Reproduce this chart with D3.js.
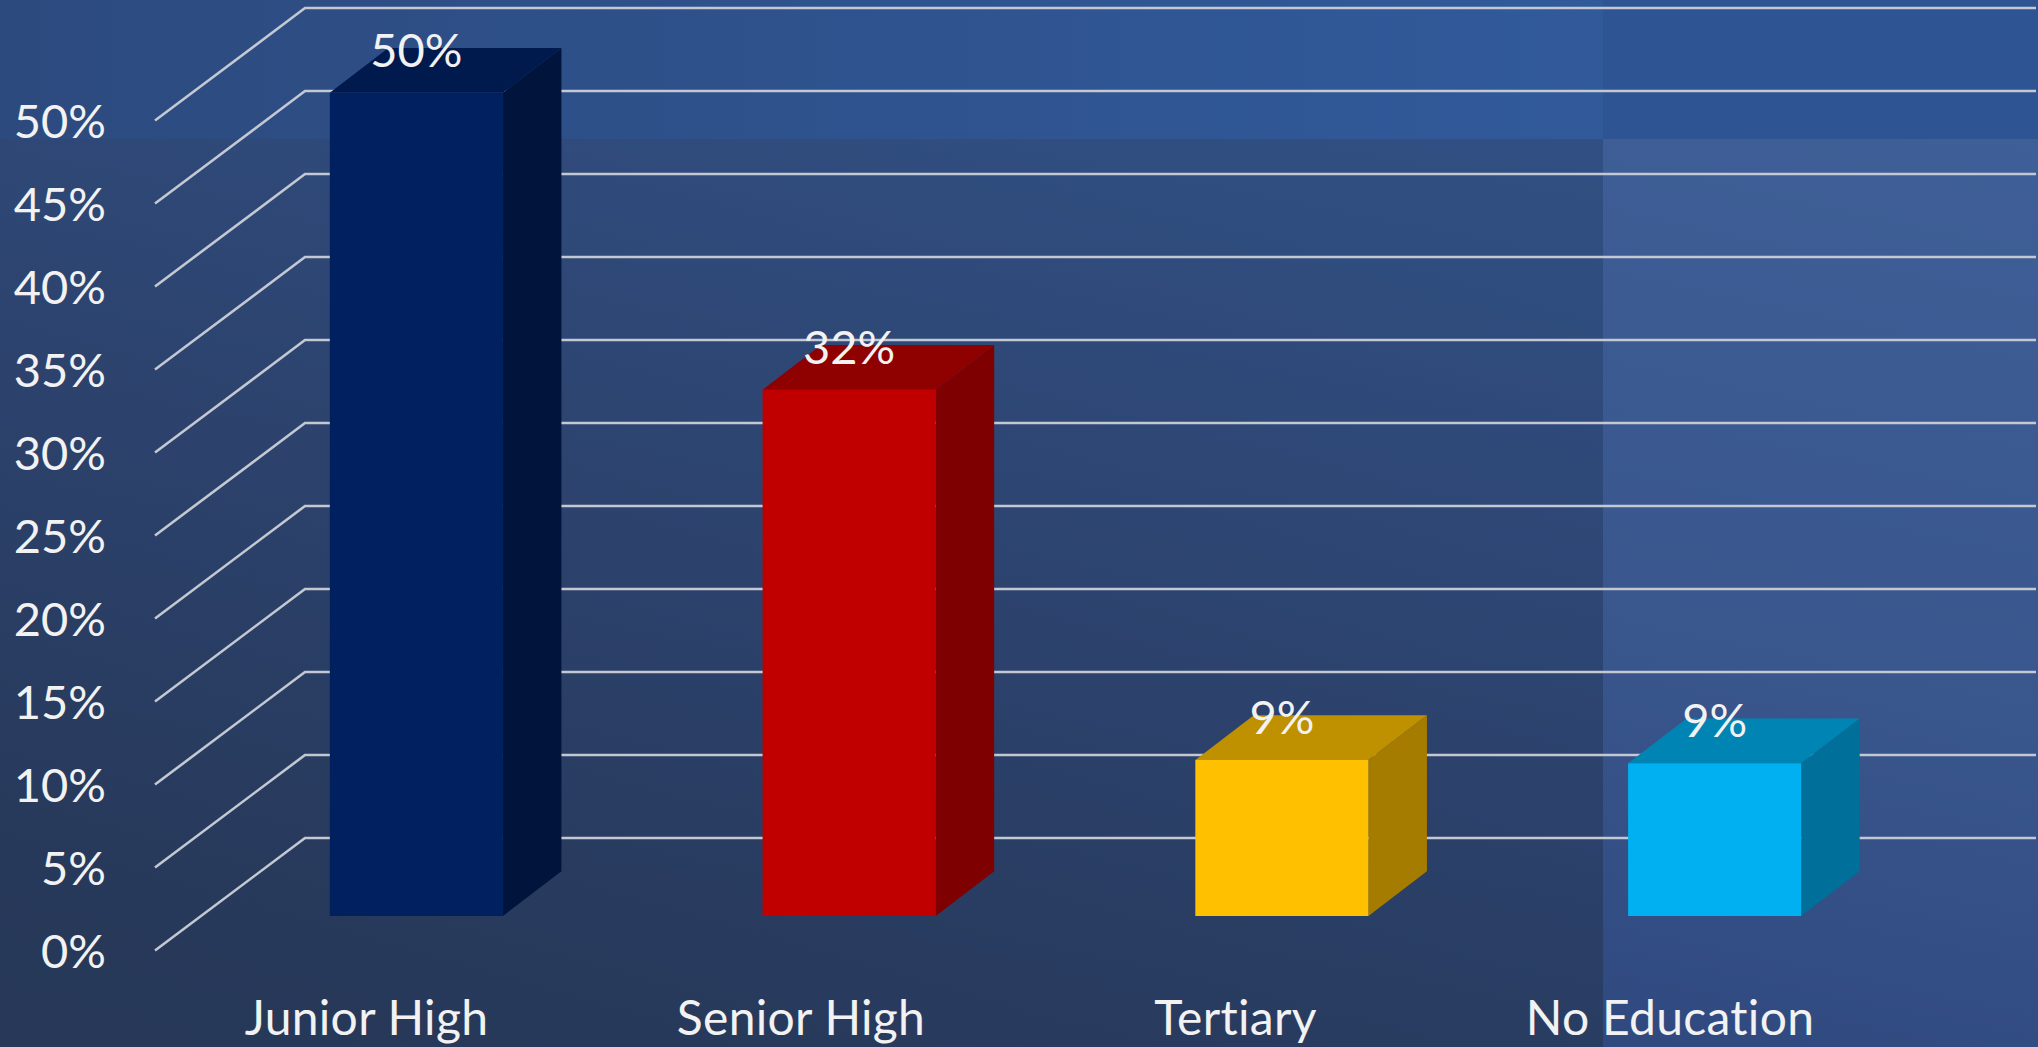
<!DOCTYPE html>
<html>
<head>
<meta charset="utf-8">
<script src="https://cdn.jsdelivr.net/npm/d3@7"></script>
<style>
html,body{margin:0;padding:0;background:#28395a;overflow:hidden}
svg{display:block}
text{font-family:Lato,"Open Sans",sans-serif;fill:#f2f2f2;font-variant-ligatures:none}
</style>
</head>
<body>
<script>
const categories = ["Junior High", "Senior High", "Tertiary", "No Education"];
const values = [49.6, 31.7, 9.4, 9.2];
const valueLabels = ["50%", "32%", "9%", "9%"];
const yTicks = [0, 5, 10, 15, 20, 25, 30, 35, 40, 45, 50];
const frontColors = ["#002060", "#c00000", "#ffc000", "#00b0f0"];
const topColors = ["#001a4d", "#8f0000", "#bf9000", "#0084b4"];
const sideColors = ["#00143c", "#7e0000", "#a67c00", "#006f9a"];

const W = 2038, H = 1047;
const splitX = 1603, splitY = 139;
const svg = d3.select("body").append("svg").attr("width", W).attr("height", H);
const defs = svg.append("defs");

function grad(id, x1, y1, x2, y2, stops) {
  const g = defs.append("linearGradient").attr("id", id).attr("gradientUnits", "userSpaceOnUse")
    .attr("x1", x1).attr("y1", y1).attr("x2", x2).attr("y2", y2);
  stops.forEach(s => g.append("stop").attr("offset", s[0]).attr("stop-color", s[1]));
}
grad("g1", 500, 0, 200, 1047, [[0, "#2f4d80"], [0.45, "#2d4470"], [1, "#283a5a"]]);
grad("g2", 1603, 0, 1400, 1047, [[0, "#3a5a90"], [0.5, "#2d426c"], [1, "#22314f"]]);
grad("g3", 1900, 100, 1700, 1047, [[0, "#3f5f98"], [0.6, "#39568d"], [1, "#304a80"]]);
grad("gt1", 0, 0, 1603, 0, [[0, "#2c4a7e"], [1, "#315a9b"]]);

svg.append("rect").attr("width", splitX).attr("height", H).attr("fill", "url(#g2)");
svg.append("rect").attr("width", splitX).attr("height", H).attr("fill", "url(#g1)").attr("opacity", 0.75);
svg.append("rect").attr("x", splitX).attr("width", W - splitX).attr("height", H).attr("fill", "url(#g3)");
svg.append("rect").attr("width", splitX).attr("height", splitY).attr("fill", "url(#gt1)");
svg.append("rect").attr("x", splitX).attr("width", W - splitX).attr("height", splitY).attr("fill", "#2f5494");

// scales
const yBack = d3.scaleLinear().domain([0, 50]).range([838, 8]);
const wallDX = 150, wallDY = 112.5;
const depthDX = 58.5, depthDY = 44.7;
const x = d3.scaleBand().domain(categories).range([200, 1931]).paddingInner(0.6).paddingOuter(0.3);
const xLabel = d3.scalePoint().domain(categories).range([366.5, 1670]);
const backLeft = 305, backRight = 2036;
const baseY = 916;
const barY = v => yBack(v) + (baseY - yBack(0));

// gridlines: back plane + left wall
const gridG = svg.append("g").attr("fill", "none").attr("stroke", "#c3c8d2").attr("stroke-width", 2.6);
const linePath = d3.line();
gridG.selectAll("path").data(yTicks).join("path")
  .attr("d", t => linePath([[backLeft - wallDX, yBack(t) + wallDY], [backLeft, yBack(t)], [backRight, yBack(t)]]));

// y axis labels
const axisScale = d3.scaleLinear().domain([0, 50]).range([yBack(0) + wallDY, yBack(50) + wallDY]);
const axis = d3.axisLeft(axisScale).tickValues(yTicks).tickSize(0).tickPadding(0).tickFormat(d => d + "%");
const axG = svg.append("g").attr("transform", "translate(106,0)").call(axis);
axG.select(".domain").remove();
axG.selectAll("text").attr("font-size", 47).attr("font-weight", 400).attr("dy", "0.36em").attr("fill", "#f2f2f2")
  .attr("font-family", "Lato");

// bars
const bars = svg.append("g").selectAll("g").data(categories).join("g");
const area = (i) => ({
  l: x(categories[i]), r: x(categories[i]) + x.bandwidth(), t: barY(values[i]), b: baseY
});
const poly = pts => pts.map(p => p.join(",")).join(" ");
bars.append("polygon").attr("fill", (d, i) => sideColors[i]).attr("points", (d, i) => {
  const a = area(i);
  return poly([[a.r, a.t], [a.r + depthDX, a.t - depthDY], [a.r + depthDX, a.b - depthDY], [a.r, a.b]]);
});
bars.append("polygon").attr("fill", (d, i) => topColors[i]).attr("points", (d, i) => {
  const a = area(i);
  return poly([[a.l, a.t], [a.l + depthDX, a.t - depthDY], [a.r + depthDX, a.t - depthDY], [a.r, a.t]]);
});
bars.append("rect").attr("fill", (d, i) => frontColors[i])
  .attr("x", d => x(d)).attr("width", x.bandwidth())
  .attr("y", (d, i) => barY(values[i])).attr("height", (d, i) => baseY - barY(values[i]));

// value labels
svg.append("g").selectAll("text").data(categories).join("text")
  .attr("x", d => x(d) + x.bandwidth() / 2)
  .attr("y", (d, i) => barY(values[i]) - 26)
  .attr("text-anchor", "middle").attr("font-size", 47).attr("font-weight", 400)
  .text((d, i) => valueLabels[i]);

// category labels
svg.append("g").selectAll("text").data(categories).join("text")
  .attr("x", d => xLabel(d)).attr("y", 1035)
  .attr("text-anchor", "middle").attr("font-size", 48).attr("font-weight", 400)
  .attr("letter-spacing", 0.3)
  .text(d => d);
</script>
</body>
</html>
